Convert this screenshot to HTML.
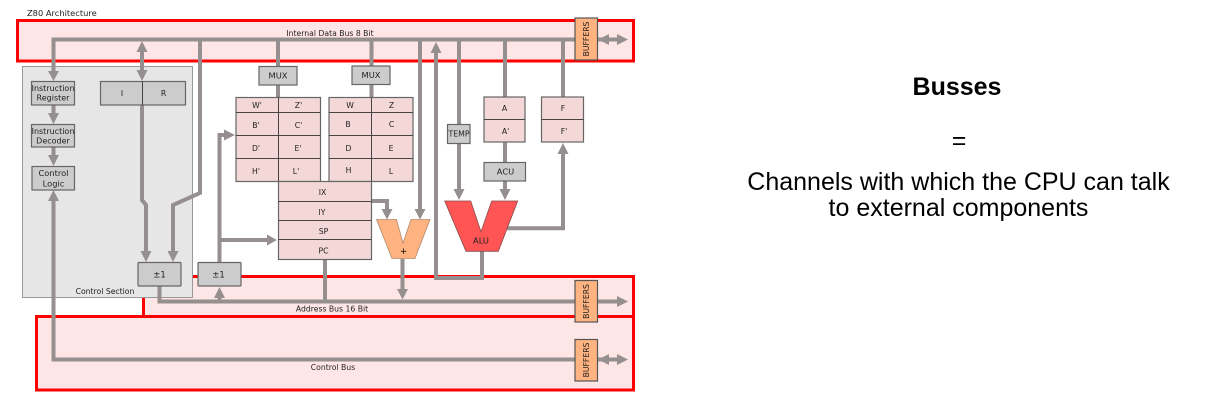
<!DOCTYPE html>
<html><head><meta charset="utf-8"><style>
html,body{margin:0;padding:0;background:#fff;width:1232px;height:414px;overflow:hidden}
svg{display:block}
.d text{font-family:"DejaVu Sans",sans-serif;font-size:7.7px;fill:#222;text-anchor:middle}
.r text{font-family:"Liberation Sans",sans-serif;fill:#000;text-anchor:middle}
.bus{fill:#ffe6e6;stroke:#f00;stroke-width:3}
.w{fill:none;stroke:#968f8f;stroke-width:4}
.h{fill:#968f8f}
.g{fill:#ccc;stroke:#666;stroke-width:1.2}
.p{fill:#f4d7d7;stroke:#666;stroke-width:1.2}
.b{fill:#ffb380;stroke:#555;stroke-width:1.2}
.l{stroke:#444;stroke-width:1;fill:none}
</style></head><body>
<svg width="1232" height="414" viewBox="0 0 1232 414" xmlns="http://www.w3.org/2000/svg">
<defs><filter id="s" filterUnits="userSpaceOnUse" x="0" y="0" width="1232" height="414"><feGaussianBlur stdDeviation="0.35"/></filter></defs>
<g class="d" filter="url(#s)">
<text x="27" y="16" style="text-anchor:start;font-size:8.300px">Z80 Architecture</text>
<rect class="bus" x="17.500" y="20.500" width="616" height="40.500"/>
<rect class="bus" x="143.500" y="276.500" width="490" height="40"/>
<rect class="bus" x="36.500" y="316.500" width="597" height="73.500"/>
<rect x="22.500" y="66.500" width="170" height="231" fill="#e6e6e6" stroke="#999" stroke-width="1"/>

<!-- wires -->
<path class="w" d="M575 39.500H53.500V72"/>
<path class="w" d="M142 50V72"/>
<path class="w" d="M53.500 105V115M53.500 147V157"/>
<path class="w" d="M53.500 200V359.500H575"/>
<path class="w" d="M200 39.500V193L173 205V253"/>
<path class="w" d="M142 105V200L146 205V253"/>
<path class="w" d="M278 39.500V97M371.500 39.500V97"/>
<path class="w" d="M420 39.500V212M371.500 201H387V212"/>
<path class="w" d="M436 50V278H482V251"/>
<path class="w" d="M459 39.500V192M505 39.500V97M505 142V192"/>
<path class="w" d="M563 39.500V97M563 153V228.300H507"/>
<path class="w" d="M219.500 262V135H226M219.500 240H268"/>
<path class="w" d="M159.500 286V301.500H618M219.500 301.500V296"/>
<path class="w" d="M325 259V301.500M402.500 259V290"/>
<path class="w" d="M598 39.500H620M598 359.500H620"/>
<!-- arrowheads -->
<g class="h">
<path d="M48 71H59L53.500 81ZM136.500 52H147.500L142 41ZM136.500 70H147.500L142 81Z"/>
<path d="M48 113H59L53.500 124ZM48 155H59L53.500 166ZM48 201H59L53.500 190Z"/>
<path d="M140.500 251H151.500L146 262ZM167.500 251H178.500L173 262Z"/>
<path d="M224 129.500L235 135L224 140.500ZM267 234.500L277 240L267 245.500Z"/>
<path d="M214 298H225L219.500 287Z"/>
<path d="M381.500 209H392.500L387 219.500ZM414.500 209H425.500L420 219.500Z"/>
<path d="M430.500 53H441.500L436 42Z"/>
<path d="M453.500 189H464.500L459 200ZM499.500 189H510.500L505 200Z"/>
<path d="M557.500 154H568.500L563 143Z"/>
<path d="M397 289H408L402.500 299.500Z"/>
<path d="M598 39.500L609 34V45ZM628 39.500L617 34V45Z"/>
<path d="M598 359.500L609 354V365ZM628 359.500L617 354V365Z"/>
<path d="M617 296V307L628 301.500Z"/>
</g>

<!-- control -->
<rect class="g" x="31.500" y="81.500" width="43" height="23.500"/>
<text x="53" y="91" style="font-size:8px">Instruction</text><text x="53" y="100.500" style="font-size:8px">Register</text>
<rect class="g" x="31.500" y="124.500" width="43" height="22.500"/>
<text x="53" y="134" style="font-size:8px">Instruction</text><text x="53" y="143.500" style="font-size:8px">Decoder</text>
<rect class="g" x="32" y="166.500" width="42.500" height="23.500"/>
<text x="53.500" y="176" style="font-size:8.300px">Control</text><text x="53.500" y="186.500" style="font-size:8.300px">Logic</text>
<rect class="g" x="100.500" y="81.500" width="85" height="23.500"/>
<path class="l" d="M142.500 81.500V105"/>
<text x="122" y="96">I</text><text x="163.500" y="96">R</text>
<text x="105" y="294">Control Section</text>
<rect class="g" x="138" y="262.500" width="43" height="23.500" rx="1"/><text x="159.500" y="277.500" style="font-size:8.500px">±1</text>
<rect class="g" x="198" y="262.500" width="43" height="23.500" rx="1"/><text x="218.500" y="277.500" style="font-size:8.500px">±1</text>

<!-- registers -->
<rect class="g" x="259" y="66.500" width="38" height="18.500"/><text x="278" y="78.500" style="font-size:8.300px">MUX</text>
<rect class="g" x="352" y="66" width="38" height="18.500"/><text x="371" y="78" style="font-size:8.300px">MUX</text>
<rect class="p" x="236" y="97.500" width="84.500" height="84"/>
<path class="l" d="M236 112.500H320.500M236 135.500H320.500M236 158.500H320.500M278.500 97.500V181.500"/>
<rect class="p" x="329" y="97.500" width="84" height="84"/>
<path class="l" d="M329 112.500H413M329 135.500H413M329 158.500H413M371.500 97.500V181.500"/>
<text x="257" y="108">W'</text><text x="298.500" y="108">Z'</text>
<text x="256" y="128">B'</text><text x="298.500" y="128">C'</text>
<text x="256" y="151">D'</text><text x="298" y="151">E'</text>
<text x="256" y="174">H'</text><text x="296" y="174">L'</text>
<text x="350" y="108">W</text><text x="391.500" y="108">Z</text>
<text x="348" y="127">B</text><text x="391.500" y="127">C</text>
<text x="348.500" y="151">D</text><text x="391" y="151">E</text>
<text x="348.500" y="173">H</text><text x="391" y="174">L</text>
<rect class="p" x="278.500" y="181.500" width="93" height="78"/>
<path class="l" d="M278.500 201.500H371.500M278.500 220.500H371.500M278.500 239.500H371.500"/>
<text x="322.500" y="195">IX</text><text x="322" y="215">IY</text><text x="323.500" y="234">SP</text><text x="323.500" y="253.500">PC</text>

<rect class="g" x="447.500" y="124.500" width="22.500" height="19"/><text x="459" y="136.500" style="font-size:7.800px">TEMP</text>
<rect class="p" x="484" y="97" width="41" height="45"/><path class="l" d="M484 119.500H525"/>
<text x="504.500" y="111">A</text><text x="505.500" y="134">A'</text>
<rect class="g" x="484" y="162.500" width="41.500" height="18.500"/><text x="505.500" y="174.500" style="font-size:8.300px">ACU</text>
<rect class="p" x="541.500" y="97" width="42" height="45"/><path class="l" d="M541.500 119.500H583.500"/>
<text x="563" y="111">F</text><text x="564" y="134">F'</text>

<!-- V units -->
<path d="M376.500 219.500H396.500L403 243L411 219.500H430L415 258.500H392Z" fill="#ffb380" stroke="#b08a70" stroke-width=".8"/>
<text x="403.500" y="254" style="font-size:8.500px;fill:#000">+</text>
<path d="M444.700 201H470.700L481 231.700L491.700 201H517.700L498.300 251.300H466Z" fill="#ff5555" stroke="#8a4a4a" stroke-width=".8"/>
<text x="481" y="243.500" style="font-size:8.300px">ALU</text>

<!-- buffers -->
<rect class="b" x="575" y="18" width="22.500" height="42"/>
<text transform="translate(589,39) rotate(-90)">BUFFERS</text>
<rect class="b" x="575" y="280.500" width="22.500" height="41.500"/>
<text transform="translate(589,301.500) rotate(-90)">BUFFERS</text>
<rect class="b" x="575" y="339.500" width="22.500" height="41.500"/>
<text transform="translate(589,360) rotate(-90)">BUFFERS</text>

<text x="330" y="36">Internal Data Bus 8 Bit</text>
<text x="332" y="311.500">Address Bus 16 Bit</text>
<text x="333" y="370">Control Bus</text>
</g>
<g class="r">
<text x="957" y="95" font-size="25" font-weight="bold">Busses</text>
<text x="959" y="149" font-size="25">=</text>
<text x="958.500" y="190" font-size="25">Channels with which the CPU can talk</text>
<text x="958.500" y="216" font-size="25">to external components</text>
</g>
</svg>
</body></html>
